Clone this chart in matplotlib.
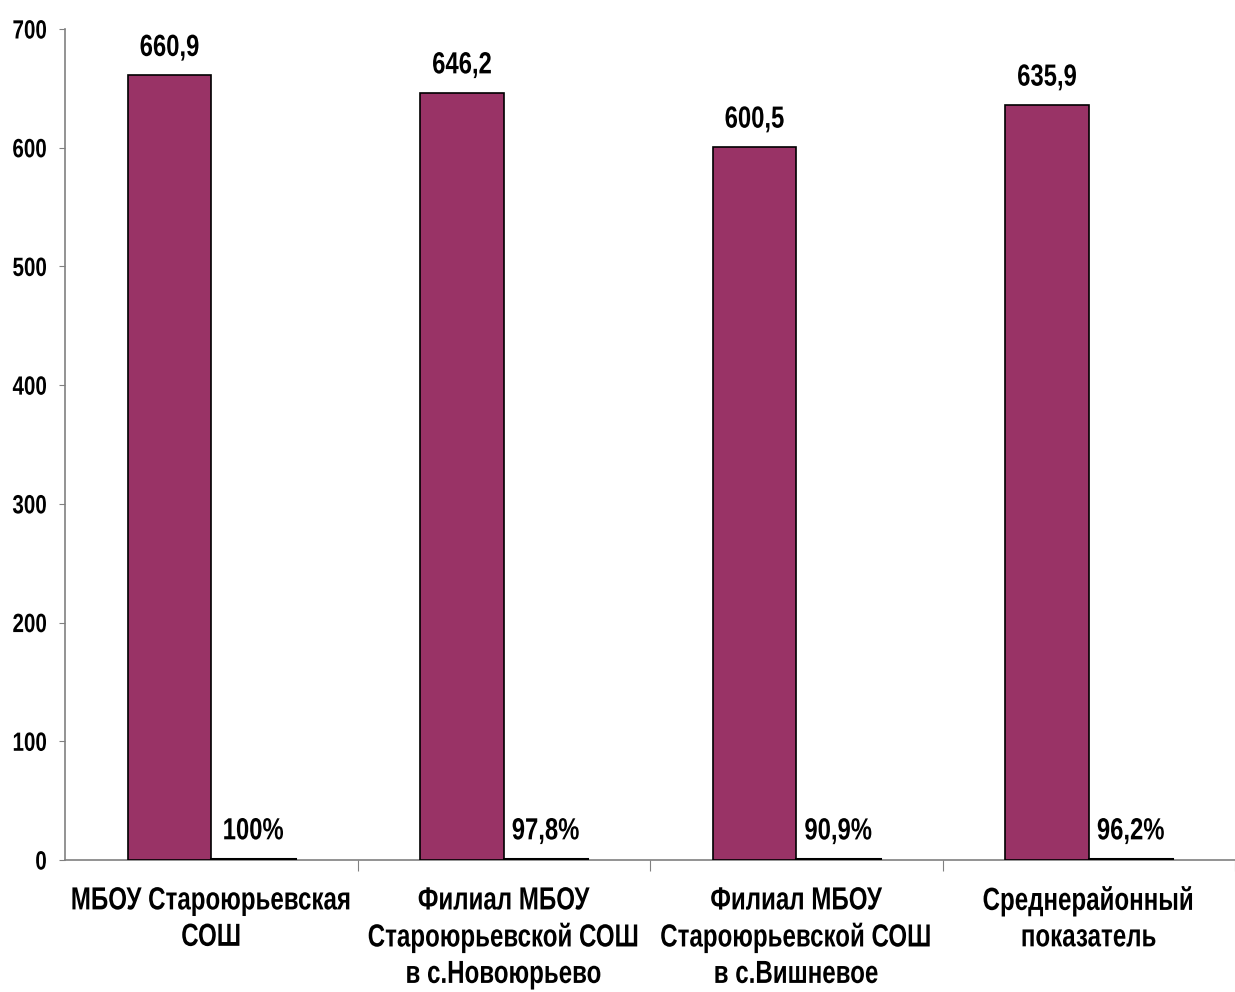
import matplotlib
matplotlib.use("Agg")
import matplotlib.pyplot as plt
import numpy as np
from matplotlib import font_manager
from matplotlib.patheffects import AbstractPathEffect
from matplotlib.transforms import Affine2D

categories = ["МБОУ Староюрьевская\nСОШ",
              "Филиал МБОУ\nСтароюрьевской СОШ\nв с.Новоюрьево",
              "Филиал МБОУ\nСтароюрьевской СОШ\nв с.Вишневое",
              "Среднерайонный\nпоказатель"]
scores = [660.9, 646.2, 600.5, 635.9]
score_labels = ["660,9", "646,2", "600,5", "635,9"]
percent = [100, 97.8, 90.9, 96.2]
percent_labels = ["100%", "97,8%", "90,9%", "96,2%"]
yticks = [0, 100, 200, 300, 400, 500, 600, 700]

names = {f.name for f in font_manager.fontManager.ttflist}
narrow = "Liberation Sans Narrow" in names
fam = ["Liberation Sans Narrow", "DejaVu Sans"] if narrow else ["Liberation Sans", "DejaVu Sans"]
plt.rcParams['font.family'] = fam
plt.rcParams['font.weight'] = 'bold'
SX = 1.0 if narrow else 0.78
SXL = 1.0 if narrow else 0.755


class Condense(AbstractPathEffect):
    """Horizontally condense text glyphs (mimics a narrow typeface)."""
    def __init__(self, sx=0.78, anchor="center"):
        super().__init__()
        self.sx = sx
        self.anchor = anchor

    def draw_path(self, renderer, gc, tpath, affine, rgbFace=None):
        bb = tpath.get_extents(affine)
        if self.anchor == "right":
            cx = bb.x1
        else:
            cx = (bb.x0 + bb.x1) / 2
        t = affine + Affine2D().translate(-cx, 0).scale(self.sx, 1).translate(cx, 0)
        renderer.draw_path(gc, tpath, t, rgbFace)


W, H = 1235, 992
fig = plt.figure(figsize=(W/100, H/100), dpi=100)
left = 65 / W
right = 1.0
bottom = 1 - 860 / H
top = 1 - 29 / H
ax = fig.add_axes([left, bottom, right - left, top - bottom])

x = np.arange(len(categories))
bw = 1 / 3.5
ax.bar(x - bw/2, scores, width=bw, color="#993366", edgecolor="black", linewidth=1.2, zorder=3)
ax.bar(x + bw/2, [p/100 for p in percent], width=bw, color="white", edgecolor="black", linewidth=2.2, zorder=3)

ce = [Condense(SX, "center")]
for xi, v, lab in zip(x, scores, score_labels):
    ax.annotate(lab, (xi - bw/2, v), xytext=(0, 9), textcoords="offset points",
                ha="center", va="bottom", fontsize=22, fontweight="bold", path_effects=ce)
for xi, v, lab in zip(x, percent, percent_labels):
    ax.annotate(lab, (xi + bw/2, v/100), xytext=(0, 9), textcoords="offset points",
                ha="center", va="bottom", fontsize=22, fontweight="bold", path_effects=ce)

cat_w = 295.5
ax.set_xlim(-0.5, -0.5 + (W - 65) / cat_w)
ax.set_ylim(0, 700)
ax.set_yticks(yticks)
ax.set_yticklabels([str(t) for t in yticks], fontsize=19, fontweight="bold")
for t in ax.get_yticklabels():
    t.set_path_effects([Condense(SX, "right")])
ax.set_xticks(np.arange(0.5, len(categories), 1.0), minor=False)
ax.set_xticklabels([])
ax.set_xticks(x, minor=True)
ax.set_xticklabels(categories, minor=True, fontsize=23, fontweight="bold", linespacing=1.28)
for t in ax.get_xticklabels(minor=True):
    t.set_path_effects([Condense(SXL, "center")])
ax.tick_params(axis="x", which="minor", length=0, pad=19)
ax.tick_params(axis="x", which="major", length=8, color="#808080", direction="out")
ax.tick_params(axis="y", length=4, color="#808080", direction="out", pad=9)

for s in ["top", "right"]:
    ax.spines[s].set_visible(False)
for s in ["left", "bottom"]:
    ax.spines[s].set_color("#808080")
    ax.spines[s].set_linewidth(1.2)

fig.savefig("out.png", dpi=100)
